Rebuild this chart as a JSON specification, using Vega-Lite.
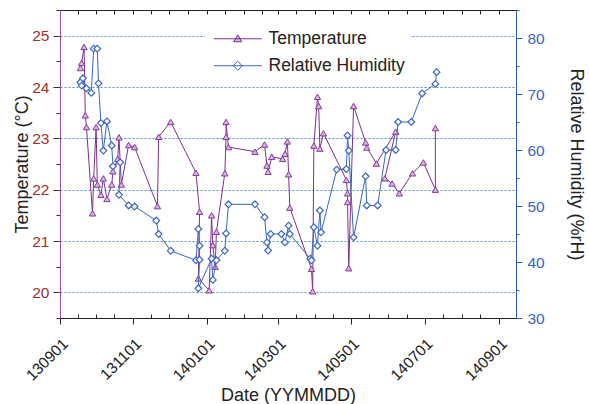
{
  "$schema": "https://vega.github.io/schema/vega-lite/v6.json",
  "width": 456,
  "height": 308,
  "autosize": {"type": "none"},
  "padding": {"left": 60, "top": 10, "right": 73, "bottom": 86},
  "config": {
    "view": {"stroke": "#222", "strokeWidth": 1},
    "font": "Liberation Sans",
    "axis": {"labelFont": "Liberation Sans", "titleFont": "Liberation Sans", "titleFontWeight": "normal", "titleColor": "#222", "labelFontSize": 15.5, "titleFontSize": 18}
  },
  "datasets": {
    "temp": [
      {"i": 1, "date": "2013-09-18", "T": 24.37},
      {"i": 2, "date": "2013-09-19", "T": 24.47},
      {"i": 3, "date": "2013-09-21", "T": 24.78},
      {"i": 4, "date": "2013-09-22", "T": 23.45},
      {"i": 5, "date": "2013-09-23", "T": 23.22},
      {"i": 6, "date": "2013-09-28", "T": 21.54},
      {"i": 7, "date": "2013-09-29", "T": 22.22},
      {"i": 8, "date": "2013-10-01", "T": 23.22},
      {"i": 9, "date": "2013-10-02", "T": 22.10},
      {"i": 10, "date": "2013-10-05", "T": 21.90},
      {"i": 11, "date": "2013-10-07", "T": 22.22},
      {"i": 12, "date": "2013-10-10", "T": 21.82},
      {"i": 13, "date": "2013-10-14", "T": 22.10},
      {"i": 14, "date": "2013-10-15", "T": 22.36},
      {"i": 15, "date": "2013-10-19", "T": 22.60},
      {"i": 16, "date": "2013-10-20", "T": 23.02},
      {"i": 17, "date": "2013-10-22", "T": 22.10},
      {"i": 18, "date": "2013-10-28", "T": 22.87},
      {"i": 19, "date": "2013-11-02", "T": 22.83},
      {"i": 20, "date": "2013-11-21", "T": 21.68},
      {"i": 21, "date": "2013-11-22", "T": 23.03},
      {"i": 22, "date": "2013-12-02", "T": 23.32},
      {"i": 23, "date": "2013-12-23", "T": 22.33},
      {"i": 24, "date": "2013-12-26", "T": 21.57},
      {"i": 25, "date": "2013-12-25", "T": 20.27},
      {"i": 26, "date": "2014-01-03", "T": 20.04},
      {"i": 27, "date": "2014-01-05", "T": 21.50},
      {"i": 28, "date": "2014-01-06", "T": 20.92},
      {"i": 29, "date": "2014-01-08", "T": 20.50},
      {"i": 30, "date": "2014-01-09", "T": 21.18},
      {"i": 31, "date": "2014-01-16", "T": 22.32},
      {"i": 32, "date": "2014-01-17", "T": 23.03},
      {"i": 33, "date": "2014-01-17", "T": 23.32},
      {"i": 34, "date": "2014-01-19", "T": 22.83},
      {"i": 35, "date": "2014-02-10", "T": 22.74},
      {"i": 36, "date": "2014-02-18", "T": 22.88},
      {"i": 37, "date": "2014-02-20", "T": 22.47},
      {"i": 38, "date": "2014-02-21", "T": 22.35},
      {"i": 39, "date": "2014-02-24", "T": 22.64},
      {"i": 40, "date": "2014-03-05", "T": 22.60},
      {"i": 41, "date": "2014-03-07", "T": 22.70},
      {"i": 42, "date": "2014-03-09", "T": 22.94},
      {"i": 43, "date": "2014-03-10", "T": 22.30},
      {"i": 44, "date": "2014-03-11", "T": 21.65},
      {"i": 45, "date": "2014-03-29", "T": 20.46},
      {"i": 46, "date": "2014-03-30", "T": 20.02},
      {"i": 47, "date": "2014-03-31", "T": 22.86},
      {"i": 48, "date": "2014-04-03", "T": 23.81},
      {"i": 49, "date": "2014-04-04", "T": 23.63},
      {"i": 50, "date": "2014-04-05", "T": 22.80},
      {"i": 51, "date": "2014-04-08", "T": 23.10},
      {"i": 52, "date": "2014-04-27", "T": 22.19},
      {"i": 53, "date": "2014-04-28", "T": 21.93},
      {"i": 54, "date": "2014-04-28", "T": 21.76},
      {"i": 55, "date": "2014-04-29", "T": 20.47},
      {"i": 56, "date": "2014-05-03", "T": 23.63},
      {"i": 57, "date": "2014-05-13", "T": 22.92},
      {"i": 58, "date": "2014-05-14", "T": 22.82},
      {"i": 59, "date": "2014-05-22", "T": 22.51},
      {"i": 60, "date": "2014-06-07", "T": 23.13},
      {"i": 61, "date": "2014-05-29", "T": 22.22},
      {"i": 62, "date": "2014-06-04", "T": 22.12},
      {"i": 63, "date": "2014-06-10", "T": 21.93},
      {"i": 64, "date": "2014-06-21", "T": 22.32},
      {"i": 65, "date": "2014-06-30", "T": 22.53},
      {"i": 66, "date": "2014-07-10", "T": 22.00},
      {"i": 67, "date": "2014-07-10", "T": 23.20}
    ],
    "hum": [
      {"i": 1, "date": "2013-09-18", "RH": 72.1},
      {"i": 2, "date": "2013-09-19", "RH": 71.5},
      {"i": 3, "date": "2013-09-20", "RH": 72.8},
      {"i": 4, "date": "2013-09-23", "RH": 71.0},
      {"i": 5, "date": "2013-09-27", "RH": 70.2},
      {"i": 6, "date": "2013-09-29", "RH": 78.1},
      {"i": 7, "date": "2013-10-02", "RH": 78.1},
      {"i": 8, "date": "2013-10-03", "RH": 71.9},
      {"i": 9, "date": "2013-10-05", "RH": 64.8},
      {"i": 10, "date": "2013-10-07", "RH": 59.9},
      {"i": 11, "date": "2013-10-10", "RH": 65.1},
      {"i": 12, "date": "2013-10-14", "RH": 60.8},
      {"i": 13, "date": "2013-10-15", "RH": 57.1},
      {"i": 14, "date": "2013-10-21", "RH": 57.8},
      {"i": 15, "date": "2013-10-20", "RH": 52.0},
      {"i": 16, "date": "2013-10-28", "RH": 50.1},
      {"i": 17, "date": "2013-11-02", "RH": 49.9},
      {"i": 18, "date": "2013-11-20", "RH": 47.4},
      {"i": 19, "date": "2013-11-22", "RH": 45.0},
      {"i": 20, "date": "2013-12-02", "RH": 42.0},
      {"i": 21, "date": "2013-12-23", "RH": 40.3},
      {"i": 22, "date": "2013-12-25", "RH": 45.9},
      {"i": 23, "date": "2013-12-26", "RH": 42.9},
      {"i": 24, "date": "2013-12-26", "RH": 40.4},
      {"i": 25, "date": "2013-12-25", "RH": 35.3},
      {"i": 26, "date": "2014-01-05", "RH": 40.6},
      {"i": 27, "date": "2014-01-06", "RH": 36.8},
      {"i": 28, "date": "2014-01-09", "RH": 40.3},
      {"i": 29, "date": "2014-01-16", "RH": 42.0},
      {"i": 30, "date": "2014-01-17", "RH": 45.1},
      {"i": 31, "date": "2014-01-19", "RH": 50.3},
      {"i": 32, "date": "2014-02-10", "RH": 50.3},
      {"i": 33, "date": "2014-02-18", "RH": 48.0},
      {"i": 34, "date": "2014-02-20", "RH": 43.5},
      {"i": 35, "date": "2014-02-21", "RH": 42.05},
      {"i": 36, "date": "2014-02-23", "RH": 45.0},
      {"i": 37, "date": "2014-03-04", "RH": 45.0},
      {"i": 38, "date": "2014-03-07", "RH": 43.5},
      {"i": 39, "date": "2014-03-10", "RH": 46.5},
      {"i": 40, "date": "2014-03-11", "RH": 45.0},
      {"i": 41, "date": "2014-03-28", "RH": 40.6},
      {"i": 42, "date": "2014-03-29", "RH": 40.3},
      {"i": 43, "date": "2014-03-31", "RH": 46.2},
      {"i": 44, "date": "2014-04-03", "RH": 42.9},
      {"i": 45, "date": "2014-04-05", "RH": 49.2},
      {"i": 46, "date": "2014-04-06", "RH": 45.3},
      {"i": 47, "date": "2014-04-19", "RH": 56.5},
      {"i": 48, "date": "2014-04-27", "RH": 56.6},
      {"i": 49, "date": "2014-04-28", "RH": 62.6},
      {"i": 50, "date": "2014-04-29", "RH": 59.9},
      {"i": 51, "date": "2014-05-03", "RH": 44.4},
      {"i": 52, "date": "2014-05-13", "RH": 55.3},
      {"i": 53, "date": "2014-05-14", "RH": 50.1},
      {"i": 54, "date": "2014-05-23", "RH": 50.1},
      {"i": 55, "date": "2014-05-30", "RH": 60.0},
      {"i": 56, "date": "2014-06-07", "RH": 60.0},
      {"i": 57, "date": "2014-06-09", "RH": 65.0},
      {"i": 58, "date": "2014-06-20", "RH": 65.0},
      {"i": 59, "date": "2014-06-29", "RH": 70.1},
      {"i": 60, "date": "2014-07-10", "RH": 71.8},
      {"i": 61, "date": "2014-07-11", "RH": 73.9}
    ]
  },
  "layer": [
    {
      "data": {"name": "temp"},
      "encoding": {
        "x": {
          "field": "date", "type": "temporal",
          "scale": {"type": "utc", "domain": [{"year": 2013, "month": 9, "date": 1, "utc": true}, {"year": 2014, "month": 9, "date": 15, "utc": true}]},
          "axis": {
            "orient": "bottom",
            "title": "Date (YYMMDD)",
            "titlePadding": 3,
            "labelAngle": -45,
            "labelOverlap": false,
            "labelFlush": false,
            "labelPadding": 12,
            "labelColor": "#222",
            "domainColor": "#222",
            "tickColor": "#222",
            "grid": false,
            "tickSize": {"condition": {"test": "utcdate(datum.value) == 1 && utcmonth(datum.value) % 2 == 0", "value": 6}, "value": -4},
            "labelExpr": "(utcdate(datum.value) == 1 && utcmonth(datum.value) % 2 == 0) ? utcFormat(datum.value, '%y%m%d') : ''",
            "values": [
              {"year": 2013, "month": 9, "date": 1, "utc": true}, {"year": 2013, "month": 9, "date": 16, "utc": true},
              {"year": 2013, "month": 10, "date": 1, "utc": true}, {"year": 2013, "month": 10, "date": 16, "utc": true},
              {"year": 2013, "month": 11, "date": 1, "utc": true}, {"year": 2013, "month": 11, "date": 16, "utc": true},
              {"year": 2013, "month": 12, "date": 1, "utc": true}, {"year": 2013, "month": 12, "date": 16, "utc": true},
              {"year": 2014, "month": 1, "date": 1, "utc": true}, {"year": 2014, "month": 1, "date": 16, "utc": true},
              {"year": 2014, "month": 2, "date": 1, "utc": true}, {"year": 2014, "month": 2, "date": 16, "utc": true},
              {"year": 2014, "month": 3, "date": 1, "utc": true}, {"year": 2014, "month": 3, "date": 16, "utc": true},
              {"year": 2014, "month": 4, "date": 1, "utc": true}, {"year": 2014, "month": 4, "date": 16, "utc": true},
              {"year": 2014, "month": 5, "date": 1, "utc": true}, {"year": 2014, "month": 5, "date": 16, "utc": true},
              {"year": 2014, "month": 6, "date": 1, "utc": true}, {"year": 2014, "month": 6, "date": 16, "utc": true},
              {"year": 2014, "month": 7, "date": 1, "utc": true}, {"year": 2014, "month": 7, "date": 16, "utc": true},
              {"year": 2014, "month": 8, "date": 1, "utc": true}, {"year": 2014, "month": 8, "date": 16, "utc": true},
              {"year": 2014, "month": 9, "date": 1, "utc": true}
            ]
          }
        },
        "y": {
          "field": "T", "type": "quantitative",
          "scale": {"domain": [19.5, 25.5], "nice": false, "zero": false},
          "axis": {
            "orient": "left",
            "title": "Temperature (°C)",
            "titlePadding": 0,
            "values": [19.5, 20, 20.5, 21, 21.5, 22, 22.5, 23, 23.5, 24, 24.5, 25, 25.5],
            "labelExpr": "datum.value % 1 == 0 ? format(datum.value, 'd') : ''",
            "labelColor": "#a3302c",
            "labelPadding": 4,
            "domainColor": "#9a4aa8",
            "tickColor": "#333",
            "tickSize": {"condition": {"test": "datum.value % 1 == 0", "value": 7}, "value": 4},
            "grid": true,
            "gridColor": "#4a8fd6",
            "gridDash": [2, 2],
            "gridWidth": 1,
            "gridOpacity": {"condition": {"test": "datum.value % 1 == 0 && datum.value > 19.6 && datum.value < 25.4", "value": 1}, "value": 0}
          }
        }
      },
      "layer": [
        {
          "mark": {"type": "line", "strokeWidth": 1},
          "encoding": {
            "order": {"field": "i", "type": "quantitative"},
            "color": {
              "datum": "Temperature",
              "scale": {"domain": ["Temperature", "Relative Humidity"], "range": ["#7d2f8e", "#3a66c4"]},
              "legend": {
                "title": null,
                "orient": "none",
                "legendX": 145,
                "legendY": 15,
                "fillColor": "white",
                "padding": 5,
                "symbolSize": 100,
                "symbolStrokeWidth": 1,
                "labelOffset": 41,
                "labelFontSize": 17.5,
                "labelFont": "Liberation Sans",
                "labelColor": "#222",
                "rowPadding": 8,
                "encode": {
                  "symbols": {
                    "update": {
                      "shape": {"signal": "datum.value === 'Temperature' ? 'M-1,0H8.6M3.8,-0.8L4.6,0.6L3,0.6Z' : 'M-1,0H8.6M3.8,-0.9L4.7,0L3.8,0.9L2.9,0Z'"},
                      "fill": {"signal": "datum.value === 'Temperature' ? '#dab4e2' : '#ffffff'"},
                      "fillOpacity": {"value": 1}
                    }
                  }
                }
              }
            }
          }
        },
        {
          "mark": {"type": "point", "shape": "triangle-up", "filled": true, "fill": "#dab4e2", "stroke": "#843a96", "strokeWidth": 1, "size": 40, "opacity": 1}
        }
      ]
    },
    {
      "data": {"name": "hum"},
      "encoding": {
        "x": {
          "field": "date", "type": "temporal",
          "axis": {
            "orient": "top",
            "title": null,
            "labels": false,
            "grid": false,
            "domainColor": "#222",
            "tickColor": "#222",
            "tickSize": -4,
            "values": [
              {"year": 2013, "month": 9, "date": 1, "utc": true}, {"year": 2013, "month": 9, "date": 16, "utc": true},
              {"year": 2013, "month": 10, "date": 1, "utc": true}, {"year": 2013, "month": 10, "date": 16, "utc": true},
              {"year": 2013, "month": 11, "date": 1, "utc": true}, {"year": 2013, "month": 11, "date": 16, "utc": true},
              {"year": 2013, "month": 12, "date": 1, "utc": true}, {"year": 2013, "month": 12, "date": 16, "utc": true},
              {"year": 2014, "month": 1, "date": 1, "utc": true}, {"year": 2014, "month": 1, "date": 16, "utc": true},
              {"year": 2014, "month": 2, "date": 1, "utc": true}, {"year": 2014, "month": 2, "date": 16, "utc": true},
              {"year": 2014, "month": 3, "date": 1, "utc": true}, {"year": 2014, "month": 3, "date": 16, "utc": true},
              {"year": 2014, "month": 4, "date": 1, "utc": true}, {"year": 2014, "month": 4, "date": 16, "utc": true},
              {"year": 2014, "month": 5, "date": 1, "utc": true}, {"year": 2014, "month": 5, "date": 16, "utc": true},
              {"year": 2014, "month": 6, "date": 1, "utc": true}, {"year": 2014, "month": 6, "date": 16, "utc": true},
              {"year": 2014, "month": 7, "date": 1, "utc": true}, {"year": 2014, "month": 7, "date": 16, "utc": true},
              {"year": 2014, "month": 8, "date": 1, "utc": true}, {"year": 2014, "month": 8, "date": 16, "utc": true},
              {"year": 2014, "month": 9, "date": 1, "utc": true}
            ]
          }
        },
        "y": {
          "field": "RH", "type": "quantitative",
          "scale": {"domain": [30, 85], "nice": false, "zero": false},
          "axis": {
            "orient": "right",
            "title": "Relative Humidity (%rH)",
            "titlePadding": 22,
            "values": [30, 35, 40, 45, 50, 55, 60, 65, 70, 75, 80, 85],
            "labelExpr": "datum.value % 10 == 0 ? datum.label : ''",
            "labelColor": "#3a66c4",
            "labelPadding": 5,
            "domainColor": "#2f5cb8",
            "tickColor": "#2f5cb8",
            "tickSize": {"condition": {"test": "datum.value % 10 == 0", "value": 6}, "value": 3},
            "grid": false
          }
        }
      },
      "layer": [
        {
          "mark": {"type": "line", "strokeWidth": 1},
          "encoding": {
            "order": {"field": "i", "type": "quantitative"},
            "color": {"datum": "Relative Humidity"}
          }
        },
        {
          "mark": {"type": "point", "shape": "diamond", "filled": true, "fill": "#ffffff", "stroke": "#3a66c4", "strokeWidth": 1.2, "size": 45, "opacity": 1}
        }
      ]
    }
  ],
  "resolve": {"scale": {"y": "independent"}, "axis": {"x": "independent"}}
}
